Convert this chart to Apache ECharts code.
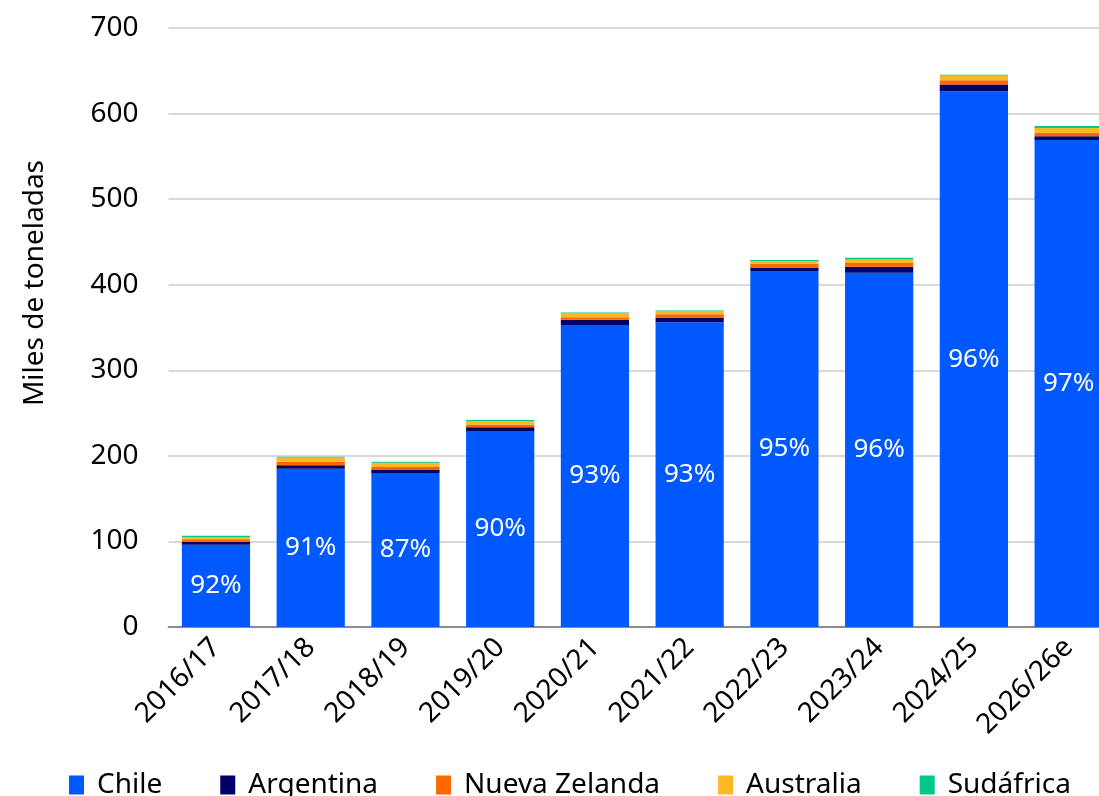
<!DOCTYPE html>
<html>
<head>
<meta charset="utf-8">
<script src="https://cdn.jsdelivr.net/npm/echarts@6/dist/echarts.min.js"></script>
<style>
html,body{margin:0;padding:0;background:#fff;overflow:hidden;width:1099px;height:796px;}
#c{width:1116px;height:796px;}
</style>
</head>
<body>
<div id="c"></div>
<script>
const categories = ['2016/17','2017/18','2018/19','2019/20','2020/21','2021/22','2022/23','2023/24','2024/25','2026/26e'];
const chile      = [96, 185, 180, 229, 353, 356, 416, 414, 626, 569];
const argentina  = [3.5, 4, 4, 4.5, 6, 5, 4, 7, 8, 4.5];
const nuevaZelanda = [3, 4, 3, 3, 3, 4.5, 4.5, 4.5, 5, 4];
const australia  = [2.5, 5, 5, 4, 5, 3.5, 3, 4, 5.5, 5.5];
const sudafrica  = [1.5, 1, 1, 1.5, 0.5, 1, 1.5, 2, 1, 2.5];
const shareLabels = ['92%','91%','87%','90%','93%','93%','95%','96%','96%','97%'];
const yTicks = [0,100,200,300,400,500,600,700];

const FONT = '"Noto Sans", sans-serif';
const chart = echarts.init(document.getElementById('c'), null, {renderer:'canvas'});

function bar(name, data, color, extra) {
  return Object.assign({
    name: name, type: 'bar', stack: 'total', data: data,
    barCategoryGap: '28%',
    itemStyle: {color: color},
    emphasis: {disabled: true}
  }, extra || {});
}

chart.setOption({
  animation: false,
  textStyle: {fontFamily: FONT},
  grid: {left: 168.6, right: 0, top: 28, bottom: 169, containLabel: false},
  legend: {
    bottom: -8, left: 64,
    itemGap: 58,
    itemWidth: 15, itemHeight: 19,
    icon: 'rect',
    textStyle: {fontSize: 28, color: '#000', fontFamily: FONT, padding: [0,0,0,8]},
    data: ['Chile','Argentina','Nueva Zelanda','Australia','Sudáfrica']
  },
  graphic: [{
    type: 'text',
    left: 21, top: 160,
    rotation: Math.PI / 2,
    style: {text: 'Miles de toneladas', fontSize: 28, fill: '#000', fontFamily: FONT}
  }],
  xAxis: {
    type: 'category',
    data: categories,
    axisLine: {lineStyle: {color: '#8c8c8c', width: 2}},
    axisTick: {show: false},
    axisLabel: {rotate: 45, fontSize: 28, color: '#000', margin: 16, interval: 0, fontFamily: FONT}
  },
  yAxis: {
    type: 'value',
    min: yTicks[0], max: yTicks[yTicks.length-1], interval: 100,
    axisLine: {show: false},
    axisTick: {show: false},
    axisLabel: {fontSize: 28, color: '#000', margin: 30, fontFamily: FONT},
    splitLine: {lineStyle: {color: '#d9d9d9', width: 2}}
  },
  series: [
    bar('Chile', chile, '#0058FF', {
      label: {
        show: true, position: 'inside', color: '#fff', fontSize: 26, fontFamily: FONT,
        formatter: function(p){ return shareLabels[p.dataIndex]; }
      }
    }),
    bar('Argentina', argentina, '#000066'),
    bar('Nueva Zelanda', nuevaZelanda, '#FF6600'),
    bar('Australia', australia, '#FDB924'),
    bar('Sudáfrica', sudafrica, '#00C98A')
  ]
});
</script>
</body>
</html>
